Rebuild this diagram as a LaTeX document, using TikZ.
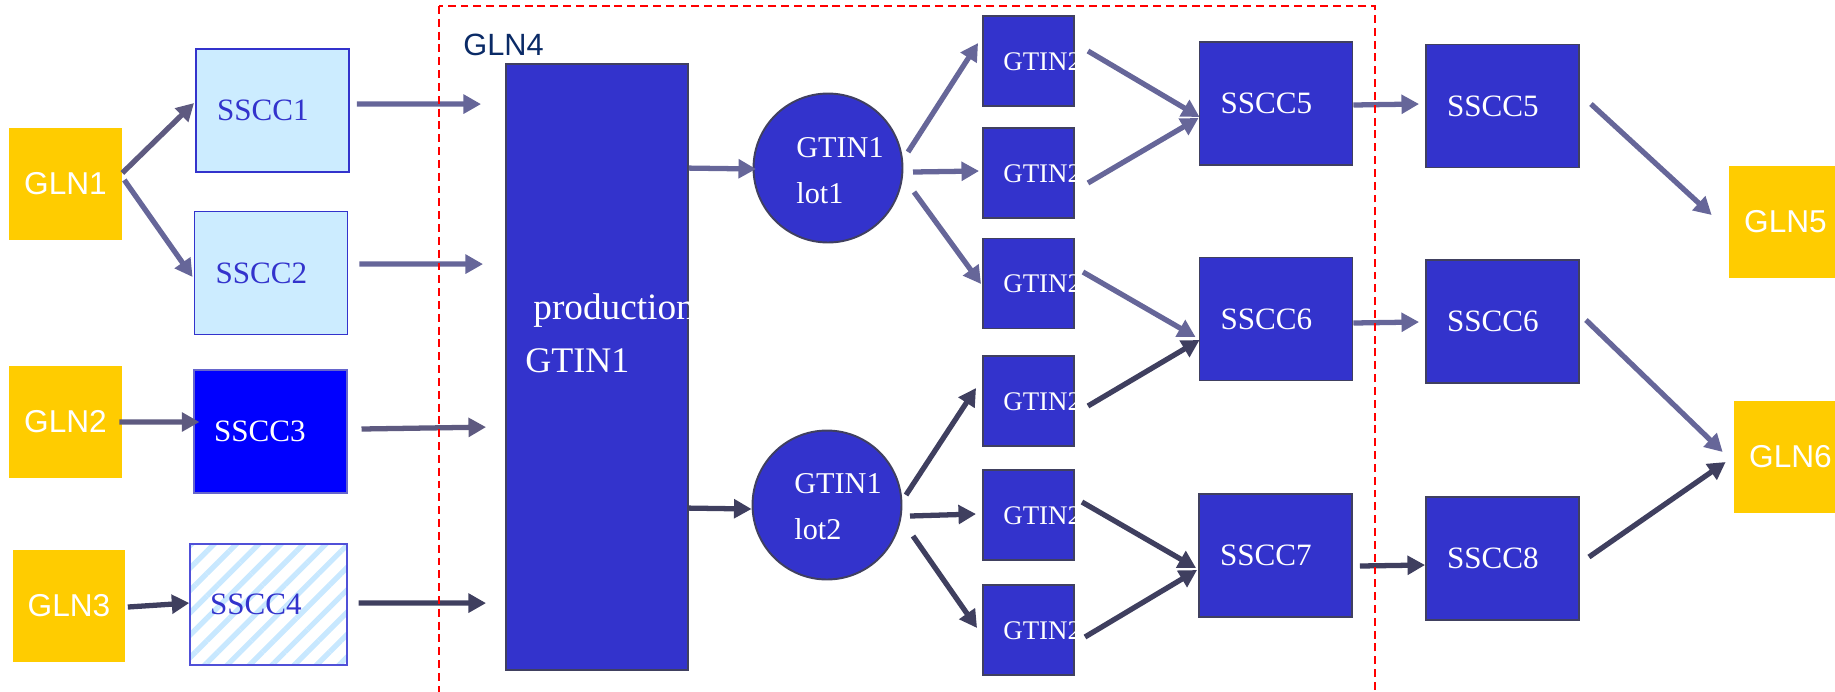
\documentclass[tikz,border=0pt]{standalone}
\usepackage{fontspec}
\setmainfont{Liberation Serif}
\newfontfamily\arialf{Liberation Sans}
\usetikzlibrary{arrows.meta,patterns.meta}
\definecolor{gyellow}{HTML}{FFCC00}
\definecolor{boxblue}{HTML}{3333CC}
\definecolor{boxline}{HTML}{404060}
\definecolor{pale}{HTML}{CCECFF}
\definecolor{pureblue}{HTML}{0000FF}
\definecolor{lightedge}{HTML}{6666CC}
\definecolor{stripeedge}{HTML}{5050D8}
\definecolor{stripe}{HTML}{C8E8FF}
\definecolor{cA}{HTML}{666699}
\definecolor{cB}{HTML}{5E5A80}
\definecolor{cC}{HTML}{3F3F5F}
\definecolor{gnavy}{HTML}{0A2A66}
\newcommand\fgln{\arialf\fontsize{18pt}{21pt}\selectfont}
\newcommand\fglnf{\arialf\fontsize{17.5pt}{21pt}\selectfont}
\newcommand\fsscc{\fontsize{17.7pt}{21pt}\selectfont}
\newcommand\fprod{\fontsize{20.5pt}{24pt}\selectfont}
\newcommand\fprodw{\fontsize{21.2pt}{24pt}\selectfont}
\newcommand\flot{\fontsize{17.2pt}{20pt}\selectfont}
\newcommand\fgt{\fontsize{15.3pt}{18pt}\selectfont}
\begin{document}
\begin{tikzpicture}[x=0.02cm,y=-0.02cm,
  gln/.style={fill=gyellow, minimum width=2.26cm, minimum height=2.24cm, inner sep=0pt, text=white, font=\fgln},
  ssccbox/.style={minimum height=2.46cm, inner ysep=0pt, inner xsep=0.42cm, text width=2.22cm, align=left, font=\fsscc, line width=1.1pt},
  darkbox/.style={ssccbox, fill=boxblue, draw=boxline, text=white},
  gtbox/.style={fill=boxblue, draw=boxline, line width=1.1pt, minimum width=1.82cm, minimum height=1.80cm, inner sep=0pt},
  lotnode/.style={circle, fill=boxblue, draw=boxline, line width=1.1pt, minimum size=2.98cm, inner sep=0pt},
  intxt/.style={anchor=base west, inner sep=0pt, text=white},
  arr/.style={line width=3pt, -{Triangle[length=10pt,width=10.5pt]}},
  la/.style={arr, draw=cA},
  lb/.style={arr, draw=cB},
  lc/.style={arr, draw=cC},
  redbox/.style={draw=red, line width=1.1pt, dash pattern=on 4.5pt off 2.8pt}
]
\path[use as bounding box, clip] (0,0) rectangle (1835,691);

% GLN boxes
\node[gln] (gln1) at (65.5,184) {GLN1};
\node[gln] (gln2) at (65.5,421.5) {GLN2};
\node[gln] (gln3) at (69,606) {GLN3};
\node[gln] (gln5) at (1785.5,221.5) {GLN5};
\node[gln] (gln6) at (1790.5,457) {GLN6};

% left SSCC boxes
\node[ssccbox, fill=pale, draw=boxblue, text=boxblue] (s1) at (272.5,110.5) {SSCC1};
\node[ssccbox, fill=pale, draw=boxblue, text=boxblue] (s2) at (271,273) {SSCC2};
\node[ssccbox, fill=pureblue, draw=lightedge, line width=0.6pt, text=white, inner xsep=0.40cm, text width=2.26cm] (s3) at (270.5,431.5) {SSCC3};
\node[ssccbox, pattern={Lines[angle=45,distance=9pt,line width=3pt]}, pattern color=stripe, draw=stripeedge, text=boxblue, text width=2.34cm, inner xsep=0.40cm, minimum height=2.42cm] (s4) at (268.5,604.5) {SSCC4};

% GLN4 label
\node[anchor=base west, inner sep=0pt, text=gnavy, font=\fglnf] (gln4) at (463,55) {GLN4};

% production box
\node[gtbox, minimum width=3.64cm, minimum height=12.12cm] (prod) at (597,367) {};
\begin{scope}
  \clip (prod.north west) rectangle (prod.south east);
  \node[intxt, font=\fprodw] (tprod1) at ([shift={(28,256)}]prod.north west) {production};
  \node[intxt, font=\fprod] (tprod2) at ([shift={(20,309)}]prod.north west) {GTIN1};
\end{scope}

% lots
\node[lotnode] (lot1) at (828,168) {};
\node[intxt, font=\flot] (tl1a) at ([shift={(-32,-11)}]lot1.center) {GTIN1};
\node[intxt, font=\flot] (tl1b) at ([shift={(-32,35)}]lot1.center) {lot1};
\node[lotnode] (lot2) at (827,505) {};
\node[intxt, font=\flot] (tl2a) at ([shift={(-33,-12)}]lot2.center) {GTIN1};
\node[intxt, font=\flot] (tl2b) at ([shift={(-33,34)}]lot2.center) {lot2};

% GTIN2 boxes
\node[gtbox] (g1) at (1028.5,61) {};
\node[gtbox] (g2) at (1028.5,173) {};
\node[gtbox] (g3) at (1028.5,283.5) {};
\node[gtbox] (g4) at (1028.5,401) {};
\node[gtbox] (g5) at (1028.5,515) {};
\node[gtbox] (g6) at (1028.5,630) {};
\foreach \g in {g1,g2,g3,g4,g5,g6}{
  \begin{scope}
    \clip (\g.north west) rectangle (\g.south east);
    \node[intxt, font=\fgt] (t\g) at ([shift={(21,55)}]\g.north west) {GTIN2};
  \end{scope}
}

% middle and right SSCC boxes
\node[darkbox] (m5) at (1276,103.5) {SSCC5};
\node[darkbox] (m6) at (1276,319) {SSCC6};
\node[darkbox] (m7) at (1275.5,555.5) {SSCC7};
\node[darkbox] (r5) at (1502.5,106) {SSCC5};
\node[darkbox] (r6) at (1502.5,321.5) {SSCC6};
\node[darkbox] (r8) at (1502.5,558.5) {SSCC8};

% arrows
\draw[lb] ([shift={(0,-11)}]gln1.east) -- ([shift={(-1,-7.5)}]s1.west);
\draw[la] ([shift={(2,-4)}]gln1.east) -- ([shift={(-1,4)}]s2.west);
\draw[la] ([shift={(7,-6.5)}]s1.east) -- ([shift={(-24,41)}]prod.north west);
\draw[la] ([shift={(11,-9)}]s2.east) -- ([shift={(-22,201)}]prod.north west);
\draw[lb] ([shift={(-3,0.5)}]gln2.east) -- ([shift={(6,-9.5)}]s3.west);
\draw[lb] ([shift={(14,-2.5)}]s3.east) -- ([shift={(-19,364)}]prod.north west);
\draw[lc] ([shift={(2,1)}]gln3.east) -- ([shift={(2,-1.5)}]s4.west);
\draw[lc] ([shift={(9,-1.5)}]s4.east) -- ([shift={(-19,540)}]prod.north west);
\draw[la] ([shift={(0,105)}]prod.north east) -- ([shift={(3.5,1)}]lot1.west);
\draw[lc] ([shift={(0,445)}]prod.north east) -- ([shift={(0,4)}]lot2.west);
\draw[la] ([shift={(80,-16)}]lot1.center) -- ([shift={(-4,-18)}]g1.west);
\draw[la] ([shift={(85,4)}]lot1.center) -- ([shift={(-3,-2)}]g2.west);
\draw[la] ([shift={(86,24)}]lot1.center) -- ([shift={(-1,0.5)}]g3.west);
\draw[lc] ([shift={(79,-10)}]lot2.center) -- ([shift={(-6,-13)}]g4.west);
\draw[lc] ([shift={(83,11)}]lot2.center) -- ([shift={(-6,-1)}]g5.west);
\draw[lc] ([shift={(86,31)}]lot2.center) -- ([shift={(-5,-2)}]g6.west);
\draw[la] ([shift={(13,-10)}]g1.east) -- ([shift={(1,13.5)}]m5.west);
\draw[la] ([shift={(13,10)}]g2.east) -- ([shift={(0,14.5)}]m5.west);
\draw[la] ([shift={(8,-11.5)}]g3.east) -- ([shift={(-3,18)}]m6.west);
\draw[lc] ([shift={(13,5)}]g4.east) -- ([shift={(1,21)}]m6.west);
\draw[lc] ([shift={(7,-13)}]g5.east) -- ([shift={(-2,12.5)}]m7.west);
\draw[lc] ([shift={(10,7)}]g6.east) -- ([shift={(-1,14.5)}]m7.west);
\draw[la] ([shift={(0,1.5)}]m5.east) -- ([shift={(-6,-2)}]r5.west);
\draw[la] ([shift={(0,4)}]m6.east) -- ([shift={(-6,0.5)}]r6.west);
\draw[lc] ([shift={(7,10.5)}]m7.east) -- ([shift={(0,6.5)}]r8.west);
\draw[la] ([shift={(11,-2)}]r5.east) -- ([shift={(-17,-6.5)}]gln5.west);
\draw[la] ([shift={(6,-1.5)}]r6.east) -- ([shift={(-11,-5)}]gln6.west);
\draw[lc] ([shift={(9,-1.5)}]r8.east) -- ([shift={(-8,5)}]gln6.west);

% GLN4 area
\draw[redbox] (439,6) rectangle (1375,720);
\end{tikzpicture}
\end{document}
